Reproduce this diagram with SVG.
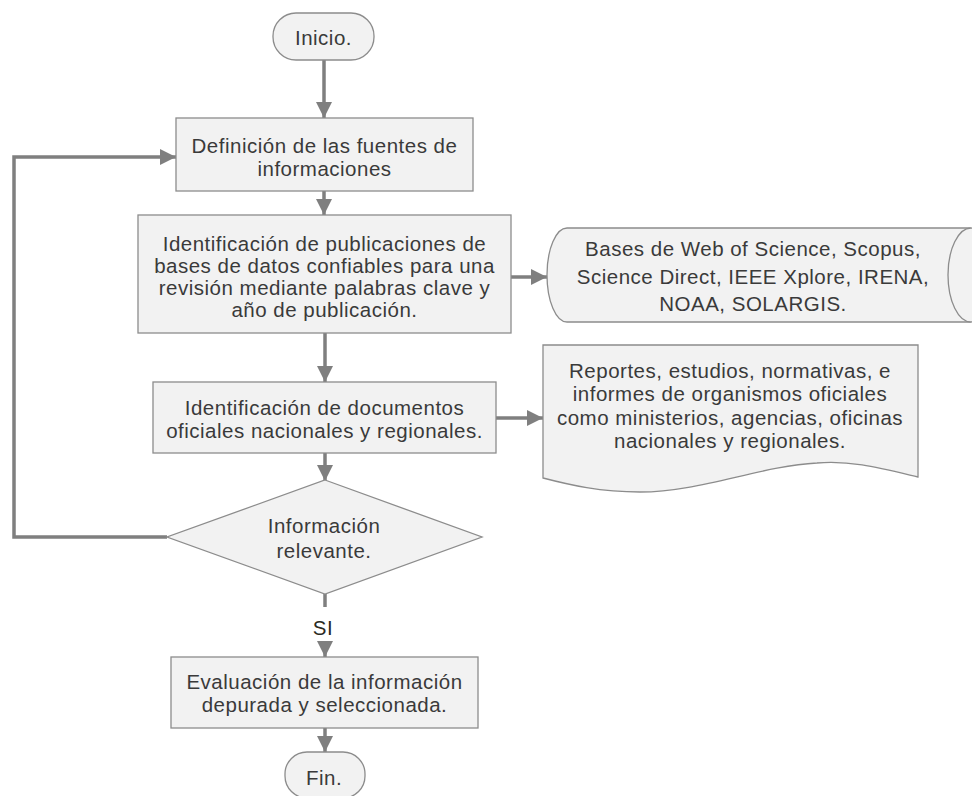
<svg xmlns="http://www.w3.org/2000/svg" width="972" height="796" viewBox="0 0 972 796">
<defs>
<style>
.shape{fill:#f2f2f2;stroke:#8c8c8c;stroke-width:1.3}
.t{font-family:"Liberation Sans",Arial,sans-serif;font-size:20.5px;letter-spacing:0.5px;fill:#3a3a3a;text-anchor:middle;dominant-baseline:central}
.c{fill:none;stroke:#7f7f7f;stroke-width:3.5}
</style>
<marker id="ah" viewBox="0 0 10 10" refX="10" refY="5" markerWidth="16" markerHeight="16" markerUnits="userSpaceOnUse" orient="auto">
<path d="M0,0 L10,5 L0,10 Z" fill="#7f7f7f"/>
</marker>
</defs>
<rect width="972" height="796" fill="#ffffff"/>
<g id="connectors">
<line class="c" x1="324" y1="60" x2="324" y2="118" marker-end="url(#ah)"/>
<line class="c" x1="324" y1="191" x2="324" y2="215" marker-end="url(#ah)"/>
<line class="c" x1="511" y1="277" x2="547" y2="277" marker-end="url(#ah)"/>
<line class="c" x1="325" y1="333" x2="325" y2="382" marker-end="url(#ah)"/>
<line class="c" x1="496" y1="418" x2="543" y2="418" marker-end="url(#ah)"/>
<line class="c" x1="325" y1="453" x2="325" y2="481" marker-end="url(#ah)"/>
<polyline class="c" points="167,537 14,537 14,157 176,157" marker-end="url(#ah)"/>
<line class="c" x1="325" y1="594" x2="325" y2="607"/>
<text class="t" x="323" y="627" style="fill:#2b2b1f">SI</text>
<line class="c" x1="325" y1="641" x2="325" y2="657" marker-end="url(#ah)"/>
<line class="c" x1="325" y1="728" x2="325" y2="752" marker-end="url(#ah)"/>
</g>
<g id="inicio">
<rect class="shape" x="273" y="13" width="101" height="47" rx="23" ry="23"/>
<text class="t" x="323.5" y="37">Inicio.</text>
</g>
<g id="definicion">
<rect class="shape" x="176" y="118" width="297" height="73"/>
<text class="t" x="324.5" y="145">Definición de las fuentes de</text>
<text class="t" x="324.5" y="168">informaciones</text>
</g>
<g id="identificacion">
<rect class="shape" x="138" y="215" width="373" height="118"/>
<text class="t" x="324.5" y="243">Identificación de publicaciones de</text>
<text class="t" x="324.5" y="265">bases de datos confiables para una</text>
<text class="t" x="324.5" y="287">revisión mediante palabras clave y</text>
<text class="t" x="324.5" y="309">año de publicación.</text>
</g>
<g id="bases">
<path class="shape" d="M567,228 L970,228 L970,322 L567,322 A20,47 0 0 1 567,228 Z"/>
<ellipse class="shape" cx="971" cy="275" rx="23" ry="47"/>
<text class="t" x="753" y="248">Bases de Web of Science, Scopus,</text>
<text class="t" x="753" y="276">Science Direct, IEEE Xplore, IRENA,</text>
<text class="t" x="753" y="303">NOAA, SOLARGIS.</text>
</g>
<g id="documentos">
<rect class="shape" x="153" y="382" width="343" height="71"/>
<text class="t" x="324.5" y="407">Identificación de documentos</text>
<text class="t" x="324.5" y="430">oficiales nacionales y regionales.</text>
</g>
<g id="reportes">
<path class="shape" d="M543,345 L918,345 L918,477 C880,468 850,460 817,463 C760,466 700,492 640,492 C600,492 570,485 543,478 Z"/>
<text class="t" x="730" y="370">Reportes, estudios, normativas, e</text>
<text class="t" x="730" y="393.5">informes de organismos oficiales</text>
<text class="t" x="730" y="417">como ministerios, agencias, oficinas</text>
<text class="t" x="730" y="440.5">nacionales y regionales.</text>
</g>
<g id="decision">
<polygon class="shape" points="325,480 482,537 325,594 167,537"/>
<text class="t" x="324" y="525">Información</text>
<text class="t" x="324" y="550">relevante.</text>
</g>
<g id="evaluacion">
<rect class="shape" x="171" y="657" width="307" height="71"/>
<text class="t" x="324.5" y="681">Evaluación de la información</text>
<text class="t" x="324.5" y="704">depurada y seleccionada.</text>
</g>
<g id="fin">
<rect class="shape" x="285" y="752" width="80" height="46" rx="22" ry="22"/>
<text class="t" x="324" y="777">Fin.</text>
</g>
</svg>
